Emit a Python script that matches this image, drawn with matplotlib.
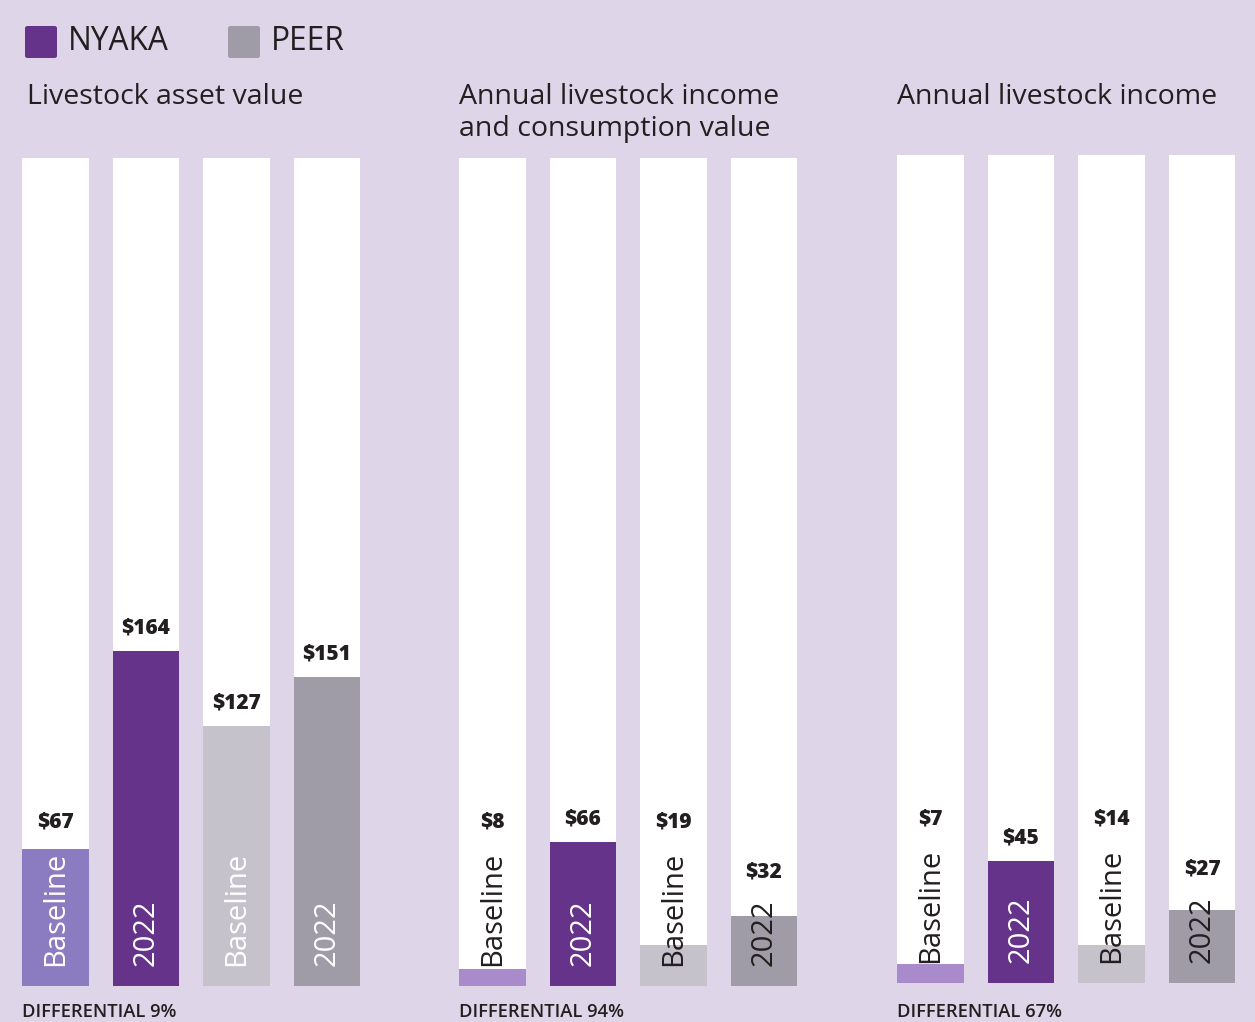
import matplotlib
matplotlib.use("Agg")
import matplotlib.pyplot as plt
from matplotlib.patches import FancyBboxPatch

# data
panels = ["Livestock asset value",
          "Annual livestock income\nand consumption value",
          "Annual livestock income"]
categories = ["Baseline", "2022", "Baseline", "2022"]
values = [[67, 164, 127, 151],
          [8, 66, 19, 32],
          [7, 45, 14, 27]]
differentials = ["DIFFERENTIAL 9%", "DIFFERENTIAL 94%", "DIFFERENTIAL 67%"]
legend_names = ["NYAKA", "PEER"]

# style
BG = "#ded5e9"
DARK = "#231f20"
NYAKA_2022 = "#66338b"
PEER_BASE = "#c5c2cc"
PEER_2022 = "#a09ca7"
base_cols = ["#8b7bc0", "#a98bcb", "#a98bcb"]
ymax = [405, 380, 305]
FONT = "Open Sans"

W, H = 1255, 1022
fig = plt.figure(figsize=(W / 100, H / 100), dpi=100)
fig.patch.set_facecolor(BG)

def fx(px):
    return px / W

def fy(py):
    return 1 - py / H

# legend
for name, col, lx in zip(legend_names, [NYAKA_2022, PEER_2022], [25, 228]):
    fig.add_artist(FancyBboxPatch((fx(lx), fy(58)), fx(32), 32 / H,
                                  boxstyle="round,pad=0,rounding_size=0.002",
                                  transform=fig.transFigure, fc=col, ec="none"))
    fig.text(fx(lx + 43), fy(42), name, fontsize=22.8, color=DARK,
             family=FONT, va="center", ha="left")

lefts = [22, 459, 897]
bottoms = [986, 986, 983]
bar_w = 0.74
pitch = 90.5
for i in range(3):
    ax_w = (3 + bar_w) * pitch
    ax = fig.add_axes([fx(lefts[i]), fy(bottoms[i]), fx(ax_w), 828 / H])
    ax.set_facecolor("none")
    ax.set_xlim(-bar_w / 2, 3 + bar_w / 2)
    ax.set_ylim(0, ymax[i])
    ax.axis("off")
    xs = range(4)
    cols = [base_cols[i], NYAKA_2022, PEER_BASE, PEER_2022]
    ax.bar(xs, [ymax[i]] * 4, width=bar_w, color="white")
    ax.bar(xs, values[i], width=bar_w, color=cols)
    for x, v, cat in zip(xs, values[i], categories):
        frac = v / ymax[i]
        tcol = "white" if (x == 1 or frac > 0.15) else DARK
        ax.annotate(cat, (x, 0), xytext=(0, 14.5), textcoords="offset points",
                    rotation=90, ha="center", va="bottom", fontsize=21,
                    color=tcol, family=FONT)
        # keep the value label clear of the rotated category text
        ly = max(v, (0.17 if cat == "Baseline" else 0.11) * ymax[i])
        ax.annotate(f"${v}", (x, ly), xytext=(0, 9), textcoords="offset points",
                    ha="center", va="bottom", fontsize=15, fontweight="heavy",
                    color=DARK, family=FONT)
    fig.text(fx(lefts[i] + 5 if i == 0 else lefts[i]), fy(83), panels[i],
             fontsize=20.5, color=DARK, family=FONT, va="top", ha="left",
             linespacing=1.17)
    fig.text(fx(lefts[i]), fy(1012), differentials[i], fontsize=13.2,
             fontweight="semibold", color=DARK, family=FONT, va="center",
             ha="left")

fig.savefig("out.png", dpi=100, facecolor=BG)
